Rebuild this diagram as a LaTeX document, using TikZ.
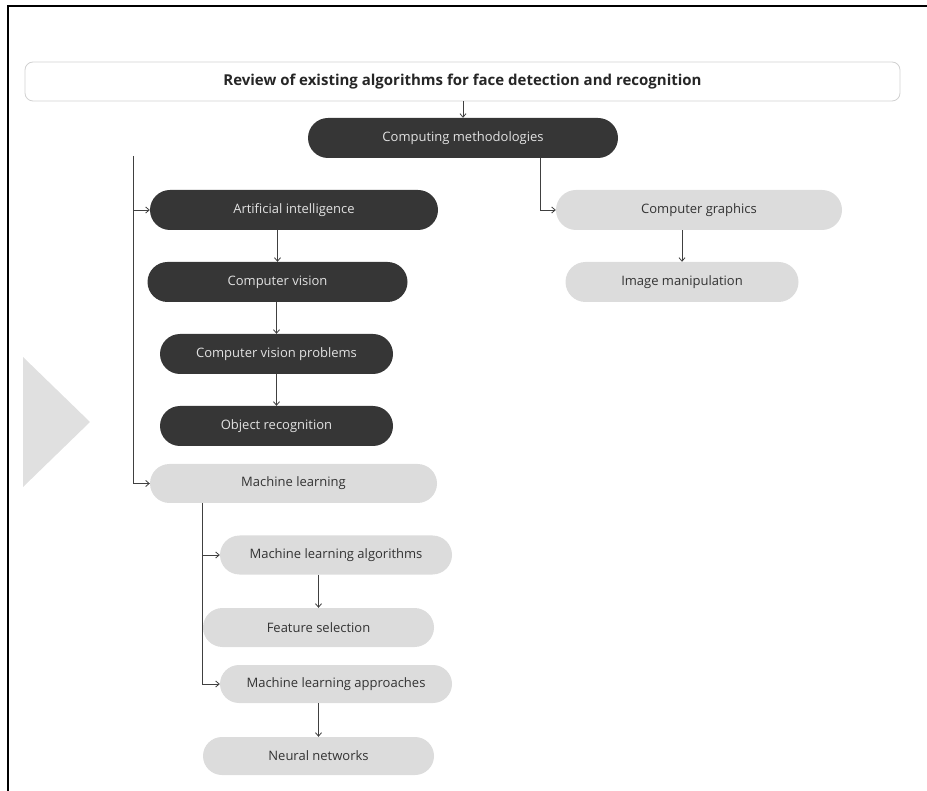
\documentclass[tikz,border=0pt]{standalone}
\usepackage{fontspec}
\setmainfont{Open Sans}
\usetikzlibrary{shapes.misc,arrows.meta}
\definecolor{pilldark}{HTML}{363636}
\definecolor{pilllight}{HTML}{DCDCDC}
\definecolor{textdark}{HTML}{333333}
\definecolor{textlight}{HTML}{E2E2E2}
\tikzstyle{pill}=[rounded rectangle, inner sep=0pt, minimum height=40pt, font=\fontsize{13}{15}\selectfont]
\tikzstyle{darkpill}=[pill, fill=pilldark, text=textlight]
\tikzstyle{lightpill}=[pill, fill=pilllight, text=textdark]
\tikzstyle{link}=[draw=black!75, line width=0.8pt, -{Straight Barb[length=3.5pt,width=6pt]}]

\begin{document}
\begin{tikzpicture}[x=1pt, y=-1pt]
\useasboundingbox (0,0) rectangle (927,791);
% Frame and side marker
    \draw[line width=1.5pt] (927,6) -- (8,6) -- (8,791);
    \fill[black!12] (23,357) -- (90,422) -- (23,487) -- cycle;
% Title
    \node[draw=black!18, line width=0.8pt, rounded corners=8pt, minimum width=875pt, minimum height=39pt, inner sep=0pt,
      font=\bfseries\fontsize{15}{17}\selectfont, text=black!85] (title) at (462.5,81.5) {Review of existing algorithms for face detection and recognition};
% Nodes
    \node[darkpill, minimum width=310pt] (cm) at (463,138) {Computing methodologies};
    \node[darkpill, minimum width=288pt] (ai) at (294,210) {Artificial intelligence};
    \node[darkpill, minimum width=260pt] (cv) at (277.5,282) {Computer vision};
    \node[darkpill, minimum width=233pt] (cvp) at (276.5,354) {Computer vision problems};
    \node[darkpill, minimum width=233pt] (or) at (276.5,426) {Object recognition};
    \node[lightpill, minimum width=287pt, minimum height=39pt] (ml) at (293.5,483.5) {Machine learning};
    \node[lightpill, minimum width=232pt, minimum height=39pt] (mla) at (336,555) {Machine learning algorithms};
    \node[lightpill, minimum width=231pt, minimum height=39pt] (fs) at (318.5,627.5) {Feature selection};
    \node[lightpill, minimum width=232pt, minimum height=38pt] (mlap) at (336,684) {Machine learning approaches};
    \node[lightpill, minimum width=231pt, minimum height=38pt] (nn) at (318.5,756) {Neural networks};
    \node[lightpill, minimum width=286pt] (cg) at (699,210) {Computer graphics};
    \node[lightpill, minimum width=233pt] (im) at (682,282) {Image manipulation};
    \coordinate (trunk) at (133,156);
    \coordinate (bend) at (540,0);
% Links
    \draw[link] (title.south -| cm) -- (cm.north);
    \draw[link] (cm.south -| bend) |- (cg.west);
    \draw[link] (cg.south -| im) -- (im.north);
    \draw[link] (trunk) |- (ml.west);
    \draw[link] (trunk |- ai.west) -- (ai.west);
    \draw[link] (ai.south -| cv) -- (cv.north);
    \draw[link] (cv.south -| cvp) -- (cvp.north);
    \draw[link] (cvp) -- (or);
    \draw[link] (ml.south -| fs.west) |- (mlap.west);
    \draw[link] (fs.west |- mla.west) -- (mla.west);
    \draw[link] (mla.south -| fs) -- (fs.north);
    \draw[link] (mlap.south -| nn) -- (nn.north);
\end{tikzpicture}
\end{document}
